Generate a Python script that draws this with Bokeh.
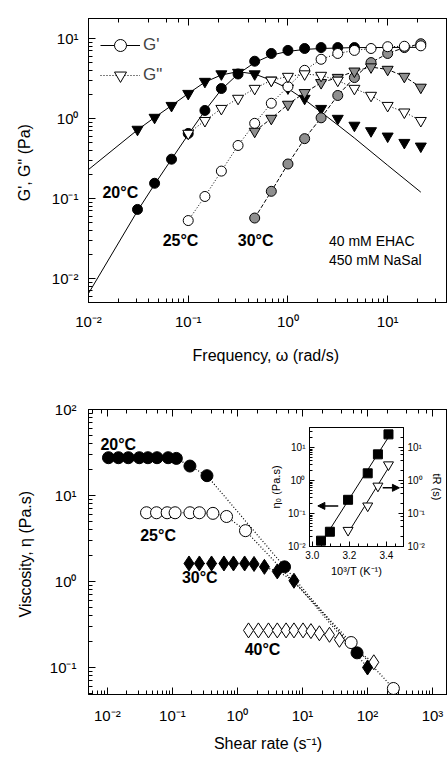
import numpy as np
from bokeh.plotting import figure
from bokeh.models import (LogAxis, CustomJSTickFormatter, Label, Legend, LegendItem,
                          Arrow, NormalHead, FixedTicker, NumeralTickFormatter)
from bokeh.layouts import column
from bokeh.embed import file_html
from bokeh.resources import INLINE

FONT = "Liberation Sans"
SERIF = "Liberation Serif"

# ---------------- Panel (a) data: frequency sweep ----------------
w20 = [0.031, 0.046, 0.068, 0.10, 0.147, 0.215, 0.316, 0.464, 0.681, 1.0, 1.47, 2.15, 3.16, 4.64]
g1_20 = [0.073, 0.155, 0.31, 0.65, 1.26, 2.37, 3.6, 5.2, 6.5, 7.1, 7.5, 7.7, 7.7, 7.7]
w20b = [0.031, 0.046, 0.068, 0.10, 0.147, 0.215, 0.316, 0.464, 0.681, 1.0, 1.47, 2.15, 3.16, 4.64, 6.81, 10.0, 14.7, 21.5]
g2_20 = [0.73, 1.03, 1.45, 2.05, 2.9, 3.6, 3.76, 3.6, 3.0, 2.4, 1.78, 1.33, 1.0, 0.82, 0.7, 0.6, 0.5, 0.45]

fit_w1 = [0.01, 0.031, 0.046, 0.068, 0.10, 0.147, 0.215, 0.316, 0.464, 0.681, 1.0, 1.47, 2.15, 3.16, 4.64, 21.5]
fit_g1 = [0.0065, 0.07, 0.15, 0.31, 0.63, 1.25, 2.3, 3.6, 5.0, 6.2, 6.9, 7.3, 7.5, 7.6, 7.7, 7.75]
fit_w2 = [0.01, 0.031, 0.046, 0.068, 0.10, 0.147, 0.215, 0.316, 0.464, 0.681, 1.0, 1.47, 2.15, 3.16, 4.64, 10.0, 21.5]
fit_g2 = [0.23, 0.72, 1.03, 1.45, 2.05, 2.85, 3.5, 3.85, 3.6, 3.0, 2.37, 1.72, 1.2, 0.83, 0.57, 0.26, 0.12]

w25 = [0.10, 0.147, 0.215, 0.316, 0.464, 0.681, 1.0, 1.47, 2.15, 3.16, 4.64, 6.81, 10.0, 14.7, 21.5]
g1_25 = [0.053, 0.106, 0.22, 0.46, 0.87, 1.55, 2.5, 4.0, 5.5, 6.5, 7.1, 7.5, 7.9, 8.0, 8.1]
g2_25 = [0.65, 0.94, 1.33, 1.78, 2.37, 3.0, 3.35, 3.6, 3.45, 3.0, 2.37, 1.94, 1.45, 1.2, 0.94]

w30 = [0.464, 0.681, 1.0, 1.47, 2.15, 3.16, 4.64, 6.81, 10.0, 14.7, 21.5]
g1_30 = [0.057, 0.123, 0.27, 0.56, 1.02, 1.94, 3.25, 5.0, 6.5, 7.7, 8.6]
g2_30 = [0.69, 1.0, 1.5, 2.1, 2.8, 3.25, 3.9, 4.4, 4.1, 3.35, 2.45]

# ---------------- Panel (b) data: steady shear viscosity ----------------
sr20 = [0.0104, 0.0148, 0.021, 0.031, 0.042, 0.058, 0.086, 0.115, 0.186, 0.34, 5.3, 69]
eta20 = [27.5, 27.5, 27.5, 27.5, 27.5, 27.5, 27.5, 27.0, 22.0, 17.0, 1.48, 0.148]
sr25 = [0.040, 0.057, 0.083, 0.11, 0.186, 0.26, 0.42, 0.68, 1.33, 56, 250]
eta25 = [6.3, 6.3, 6.3, 6.3, 6.3, 6.3, 6.2, 5.7, 3.9, 0.195, 0.057]
sr30 = [0.18, 0.26, 0.40, 0.62, 0.87, 1.29, 1.8, 2.6, 4.1, 7.4, 100]
eta30 = [1.62, 1.62, 1.62, 1.62, 1.62, 1.62, 1.6, 1.48, 1.31, 1.02, 0.10]
sr40 = [1.48, 2.1, 3.0, 4.1, 5.6, 7.4, 10.2, 13.5, 18.2, 26, 37, 125]
eta40 = [0.27, 0.27, 0.27, 0.27, 0.27, 0.27, 0.27, 0.265, 0.25, 0.24, 0.21, 0.115]

# ---------------- Inset data ----------------
invT_eta = [3.047, 3.095, 3.193, 3.299, 3.354, 3.411]
eta0 = [0.015, 0.028, 0.26, 1.65, 6.2, 25.0]
invT_tr = [3.193, 3.299, 3.354, 3.411]
tR = [0.031, 0.17, 0.68, 3.0]

SUPJS = """
const s = {"-":"\u207b","0":"\u2070","1":"\u00b9","2":"\u00b2","3":"\u00b3","4":"\u2074","5":"\u2075","6":"\u2076","7":"\u2077","8":"\u2078","9":"\u2079"};
const e = Math.round(Math.log10(tick));
return "10" + String(e).split("").map(c => s[c]).join("");
"""


def sup_fmt():
    return CustomJSTickFormatter(code=SUPJS)


def blank_fmt():
    return CustomJSTickFormatter(code='return " ";')


def style_axis(ax, show=True, size="15px", lsize="16px", standoff=10, lstandoff=14,
               maj=7, mnr=4):
    ax.major_tick_in = maj
    ax.major_tick_out = 0
    ax.minor_tick_in = mnr
    ax.minor_tick_out = 0
    ax.axis_line_color = "black"
    ax.major_tick_line_color = "black"
    ax.minor_tick_line_color = "black"
    ax.major_label_text_font = FONT
    ax.axis_label_text_font = FONT
    ax.axis_label_text_font_style = "normal"
    ax.axis_label_text_font_size = lsize
    ax.axis_label_text_color = "black"
    ax.axis_label_standoff = lstandoff
    if show:
        ax.major_label_text_color = "black"
        ax.major_label_text_font_size = size
        ax.major_label_standoff = standoff
    else:
        ax.formatter = blank_fmt()
        ax.major_label_text_color = None
        ax.major_label_text_font_size = "1px"
        ax.major_label_standoff = 0


def base_fig(w, h, xr, yr, **kw):
    p = figure(width=w, height=h, x_axis_type="log", y_axis_type="log",
               x_range=xr, y_range=yr, output_backend="svg", toolbar_location=None, **kw)
    p.grid.visible = False
    p.outline_line_color = "black"
    p.background_fill_color = "white"
    bottom = p.below[0]
    left = p.left[0]
    bottom.formatter = sup_fmt()
    left.formatter = sup_fmt()
    top = LogAxis()
    p.add_layout(top, "above")
    style_axis(top, show=False)
    return p, bottom, left


def add_label(p, x, y, text, size="16px", bold=True, font=FONT):
    p.add_layout(Label(x=x, y=y, text=text, text_font=font, text_font_size=size,
                       text_font_style="bold" if bold else "normal",
                       text_baseline="middle", text_align="left", text_color="black"))


# ======================= Panel (a) =======================
pa, pa_x, pa_y = base_fig(447, 370, (10 ** -2, 10 ** 1.6), (10 ** -2.3, 10 ** 1.25),
                          min_border_left=88, min_border_right=0, min_border_top=18,
                          min_border_bottom=68)
style_axis(pa_x, standoff=10, lstandoff=14)
style_axis(pa_y, standoff=10, lstandoff=16)
pa_x.axis_label = "Frequency, \u03c9  (rad/s)"
pa_y.axis_label = "G', G\"  (Pa)"

GRAY = "#8f8f8f"
pa.line(fit_w1, fit_g1, color="black", line_width=1)
pa.line(fit_w2, fit_g2, color="black", line_width=1)
pa.line(w30, g1_30, color="black", line_width=1, line_dash="4 2")
pa.line(w30, g2_30, color="black", line_width=1, line_dash="4 2")
pa.line(w25, g1_25, color="black", line_width=1, line_dash="1 2")
pa.line(w25, g2_25, color="black", line_width=1, line_dash="1 2")

pa.scatter(w20, g1_20, marker="circle", size=10, fill_color="black", line_color="black")
pa.scatter(w20b, g2_20, marker="inverted_triangle", size=11, fill_color="black", line_color="black")
pa.scatter(w30, g1_30, marker="circle", size=10, fill_color=GRAY, line_color="black")
pa.scatter(w30, g2_30, marker="inverted_triangle", size=11, fill_color=GRAY, line_color="black")
pa.scatter(w25, g1_25, marker="circle", size=10, fill_color="white", line_color="black")
pa.scatter(w25, g2_25, marker="inverted_triangle", size=11, fill_color="white", line_color="black")

l1 = pa.line([1e-3], [1e-3], color="black", line_width=1)
s1 = pa.scatter([1e-3], [1e-3], marker="circle", size=10, fill_color="white", line_color="black")
l2 = pa.line([1e-3], [1e-3], color="black", line_width=1, line_dash="1 2")
s2 = pa.scatter([1e-3], [1e-3], marker="inverted_triangle", size=11, fill_color="white", line_color="black")
leg = Legend(items=[LegendItem(label="G'", renderers=[l1, s1]),
                    LegendItem(label="G\"", renderers=[l2, s2])],
             location="top_left", margin=12, padding=2, spacing=0,
             glyph_width=40, glyph_height=30, label_height=30,
             label_text_font=FONT, label_text_font_size="17px",
             border_line_color=None, background_fill_alpha=0, label_standoff=3)
pa.add_layout(leg)

add_label(pa, 0.0138, 0.119, "20\u00b0C")
add_label(pa, 0.0554, 0.0298, "25\u00b0C")
add_label(pa, 0.314, 0.0298, "30\u00b0C")
add_label(pa, 2.58, 0.0298, "40 mM EHAC", size="14px", bold=False)
add_label(pa, 2.58, 0.0168, "450 mM NaSal", size="14px", bold=False)
add_label(pa, 0.00185, 15.8, "(a)", size="20px", bold=False, font=SERIF)

# ======================= Panel (b) =======================
pb, pb_x, pb_y = base_fig(447, 387, (10 ** -2.29, 10 ** 3.23), (10 ** -1.314, 10 ** 2),
                          min_border_left=86, min_border_right=0, min_border_top=39,
                          min_border_bottom=63)
style_axis(pb_x, standoff=12, lstandoff=8)
style_axis(pb_y, standoff=12, lstandoff=13)
pb_x.axis_label = "Shear rate (s\u207b\u00b9)"
pb_y.axis_label = "Viscosity, \u03b7  (Pa.s)"

for xs, ys in [(sr20, eta20), (sr25, eta25), (sr30, eta30), (sr40, eta40)]:
    pb.line(xs, ys, color="black", line_width=1.2, line_dash="1 2")
pb.scatter(sr40, eta40, marker="diamond", size=15, fill_color="white", line_color="black")
pb.scatter(sr30, eta30, marker="diamond", size=15, fill_color="black", line_color="black")
pb.scatter(sr25, eta25, marker="circle", size=12, fill_color="white", line_color="black")
pb.scatter(sr20, eta20, marker="circle", size=12, fill_color="black", line_color="black")

add_label(pb, 0.00782, 39.0, "20\u00b0C")
add_label(pb, 0.032, 3.45, "25\u00b0C")
add_label(pb, 0.140, 1.12, "30\u00b0C")
add_label(pb, 1.29, 0.162, "40\u00b0C")
add_label(pb, 0.00042, 149.0, "(b)", size="20px", bold=False, font=SERIF)

# ======================= Inset (separate root, placed over panel b) =======================
ins = figure(width=179, height=159, x_range=(2.985, 3.492), y_axis_type="log",
             y_range=(10 ** -2, 10 ** 1.606), output_backend="svg", toolbar_location=None,
             min_border_left=43, min_border_right=37, min_border_top=4, min_border_bottom=36)
ins.grid.visible = False
ins.outline_line_color = "black"
ins.background_fill_color = "white"
ins.border_fill_alpha = 0
ix = ins.below[0]
iy = ins.left[0]
ix.ticker = FixedTicker(ticks=[3.0, 3.2, 3.4],
                        minor_ticks=[3.05, 3.1, 3.15, 3.25, 3.3, 3.35, 3.45])
ix.formatter = NumeralTickFormatter(format="0.0")
iy.formatter = sup_fmt()
rax = LogAxis(formatter=sup_fmt())
ins.add_layout(rax, "right")
for ax in (ix, iy, rax):
    style_axis(ax, size="10px", lsize="11px", standoff=4, lstandoff=3, maj=5, mnr=3)
ix.axis_label = "10\u00b3/T (K\u207b\u00b9)"
iy.axis_label = "\u03b7\u2080 (Pa.s)"
rax.axis_label = "tR (s)"

for xs, ys in [(invT_eta, eta0), (invT_tr, tR)]:
    c = np.polyfit(xs, np.log10(ys), 1)
    xe = np.array([xs[0], xs[-1]])
    ins.line(xe, 10 ** np.polyval(c, xe), color="black", line_width=1)
ins.scatter(invT_eta, eta0, marker="square", size=9, fill_color="black", line_color="black")
ins.scatter(invT_tr, tR, marker="inverted_triangle", size=10, fill_color="white", line_color="black")
ins.add_layout(Arrow(end=NormalHead(size=7, fill_color="black", line_color="black"),
                     x_start=3.14, y_start=0.17, x_end=3.03, y_end=0.17, line_width=1.5))
ins.add_layout(Arrow(end=NormalHead(size=7, fill_color="black", line_color="black"),
                     x_start=3.38, y_start=0.6, x_end=3.47, y_end=0.6, line_width=1.5))
ins.styles = {"position": "absolute", "left": "266px", "top": "423px"}

layout = column(pa, pb)
open("out.html", "w").write(file_html([layout, ins], INLINE))
